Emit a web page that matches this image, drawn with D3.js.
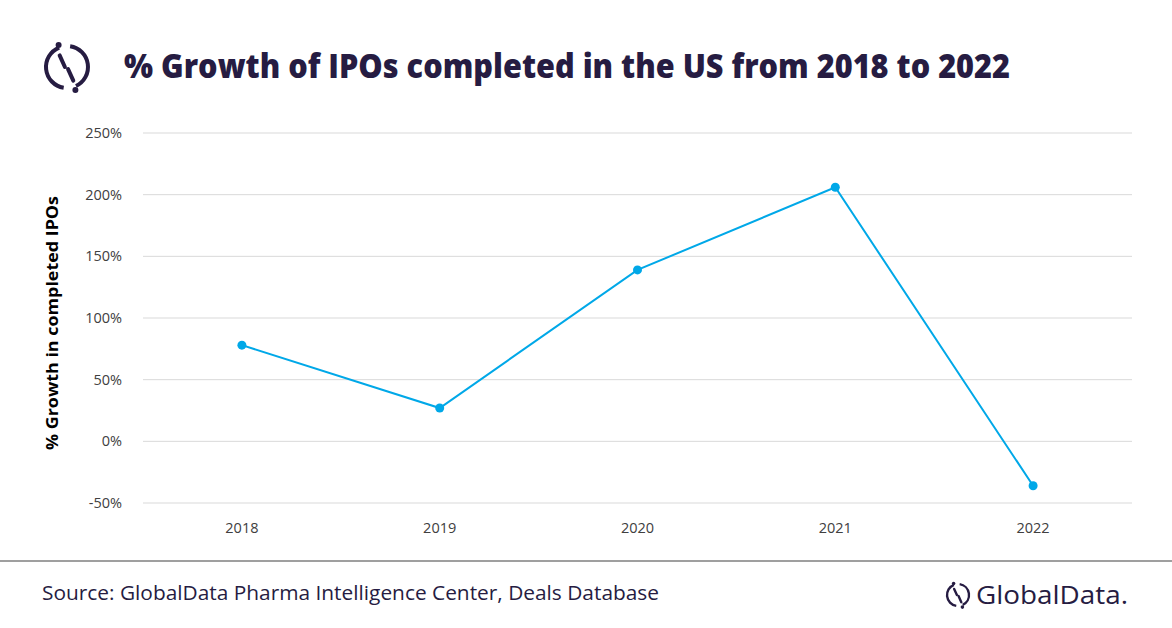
<!DOCTYPE html>
<html><head><meta charset="utf-8">
<script src="https://cdn.jsdelivr.net/npm/d3@7"></script>
<style>body{margin:0;background:#fff}text{font-family:"Open Sans",sans-serif}</style>
</head><body><svg id="c" width="1172" height="628"></svg>
<script>
const years=["2018","2019","2020","2021","2022"];
const growth=[78,27,139,206,-36];
const yTicks=[-50,0,50,100,150,200,250];
const svg=d3.select("#c");
const dark="#261c42";
const x=d3.scaleBand().domain(years).range([143,1132]);
const y=d3.scaleLinear().domain([-50,250]).range([503,133]);
svg.append("g").selectAll("line").data(yTicks).join("line")
 .attr("x1",143).attr("x2",1132).attr("y1",d=>y(d)).attr("y2",d=>y(d))
 .attr("stroke","#d9d9d9").attr("stroke-width",1);
svg.append("g").selectAll("text").data(yTicks).join("text")
 .attr("x",122).attr("y",d=>y(d)+5).attr("text-anchor","end")
 .attr("font-size",14.5).attr("fill","#404040").text(d=>d+"%");
svg.append("g").selectAll("text").data(years).join("text")
 .attr("x",d=>x(d)+x.bandwidth()/2).attr("y",533).attr("text-anchor","middle")
 .attr("font-size",14.5).attr("fill","#404040").text(d=>d);
svg.append("text").attr("transform","translate(58,323) rotate(-90)")
 .attr("text-anchor","middle").attr("font-size",16.5).attr("font-weight","bold").attr("fill","#000")
 .attr("textLength",254).attr("lengthAdjust","spacingAndGlyphs").text("% Growth in completed IPOs");
const pts=years.map((d,i)=>[x(d)+x.bandwidth()/2,y(growth[i])]);
svg.append("path").attr("d",d3.line()(pts)).attr("fill","none").attr("stroke","#00a8e8").attr("stroke-width",2);
svg.append("g").selectAll("circle").data(pts).join("circle")
 .attr("cx",d=>d[0]).attr("cy",d=>d[1]).attr("r",4.5).attr("fill","#00a8e8");
svg.append("text").attr("x",124).attr("y",78).attr("font-size",33).attr("font-weight","800")
 .attr("fill",dark).attr("textLength",886).attr("lengthAdjust","spacingAndGlyphs").text("% Growth of IPOs completed in the US from 2018 to 2022");
svg.append("line").attr("x1",0).attr("x2",1172).attr("y1",561).attr("y2",561).attr("stroke","#7f7f7f").attr("stroke-width",1.5);
svg.append("text").attr("x",42).attr("y",600).attr("font-size",20).attr("fill",dark)
 .attr("textLength",617).attr("lengthAdjust","spacingAndGlyphs")
 .text("Source: GlobalData Pharma Intelligence Center, Deals Database");
function logo(cx,cy,r,sw){
 const g=svg.append("g").attr("transform",`translate(${cx},${cy})`);
 const arc=d3.arc().innerRadius(r-sw/2).outerRadius(r+sw/2);
 g.append("path").attr("d",arc({startAngle:0.15,endAngle:2.7})).attr("fill",dark);
 g.append("path").attr("d",arc({startAngle:3.3,endAngle:5.9})).attr("fill",dark);
 g.append("line").attr("x1",-r*0.35).attr("y1",-r*0.55).attr("x2",-r*0.1).attr("y2",0).attr("stroke",dark).attr("stroke-width",sw).attr("stroke-linecap","round");
 g.append("line").attr("x1",r*0.05).attr("y1",r*0.1).attr("x2",r*0.3).attr("y2",r*0.65).attr("stroke",dark).attr("stroke-width",sw).attr("stroke-linecap","round");
 g.append("circle").attr("cx",-r*0.4).attr("cy",-r*1.05).attr("r",sw*0.75).attr("fill",dark);
 g.append("circle").attr("cx",r*0.4).attr("cy",r*1.1).attr("r",sw*0.75).attr("fill",dark);
}
logo(67,67,21,4);
logo(958,595,11,2.4);
svg.append("text").attr("x",976).attr("y",604).attr("font-size",25).attr("fill",dark)
 .attr("font-family","'Noto Sans',sans-serif").attr("textLength",152).attr("lengthAdjust","spacingAndGlyphs").text("GlobalData.");
</script></body></html>
